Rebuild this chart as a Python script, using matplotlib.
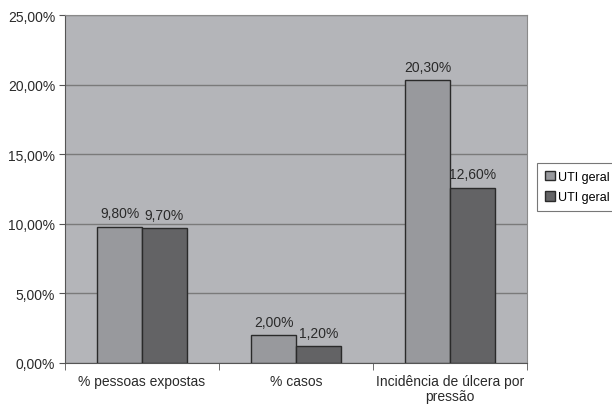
import matplotlib
matplotlib.use("Agg")
import matplotlib.pyplot as plt
from matplotlib.ticker import FuncFormatter
import numpy as np

plt.rcParams['font.family'] = ['Liberation Sans', 'DejaVu Sans']

categorias = ["% pessoas expostas", "% casos", "Incidência de úlcera por\npressão"]
series = ["UTI geral 1", "UTI geral 2"]
uti1 = [9.8, 2.0, 20.3]
uti2 = [9.7, 1.2, 12.6]
yticks = [0, 5, 10, 15, 20, 25]

fig = plt.figure(figsize=(6.12, 4.06), dpi=100)
ax = fig.add_axes([65/612, 1-364/406, 462/612, 348/406])
ax.set_facecolor("#b4b5b9")

x = np.arange(len(categorias))
w = 0.29
b1 = ax.bar(x - w/2, uti1, w, color="#98999d", edgecolor="#2a2a2a", linewidth=1, label=series[0], zorder=3)
b2 = ax.bar(x + w/2, uti2, w, color="#636365", edgecolor="#2a2a2a", linewidth=1, label=series[1], zorder=3)

def pct(v):
    return "{0:.2f}%".format(v).replace(".", ",")

for bars, vals in [(b1, uti1), (b2, uti2)]:
    for r, v in zip(bars, vals):
        ax.text(r.get_x() + r.get_width()/2, v + 0.45, pct(v), ha="center", va="bottom",
                fontsize=10, color="#2a2a2a")

ax.set_xlim(-0.5, 2.5)
ax.set_ylim(0, 25)
ax.set_yticks(yticks)
ax.yaxis.set_major_formatter(FuncFormatter(lambda v, p: pct(v)))
ax.grid(axis="y", color="#7a7a7a", linewidth=1, zorder=1)
ax.set_axisbelow(True)

ax.set_xticks(x)
ax.set_xticklabels(categorias, fontsize=10, color="#2a2a2a", linespacing=1.05)
ax.tick_params(axis="x", length=0, pad=8)
ax.set_xticks([-0.5, 0.5, 1.5, 2.5], minor=True)
ax.tick_params(axis="x", which="minor", length=5, color="#555555")
ax.tick_params(axis="y", length=4, color="#555555", labelsize=10, labelcolor="#2a2a2a", pad=3)

for s in ["top", "right"]:
    ax.spines[s].set_color("#8a8a8a")
for s in ["left", "bottom"]:
    ax.spines[s].set_color("#555555")

# legend runs off the right edge, as in the original figure
leg = fig.legend(loc="center left", bbox_to_anchor=(537/612, 1-188/406), frameon=True,
                 fancybox=False, edgecolor="#555555", fontsize=9, borderaxespad=0,
                 handlelength=0.8, handleheight=0.8, handletextpad=0.25,
                 borderpad=0.6, labelspacing=0.7)
leg.get_frame().set_linewidth(0.8)

fig.savefig("out.png", dpi=100)
